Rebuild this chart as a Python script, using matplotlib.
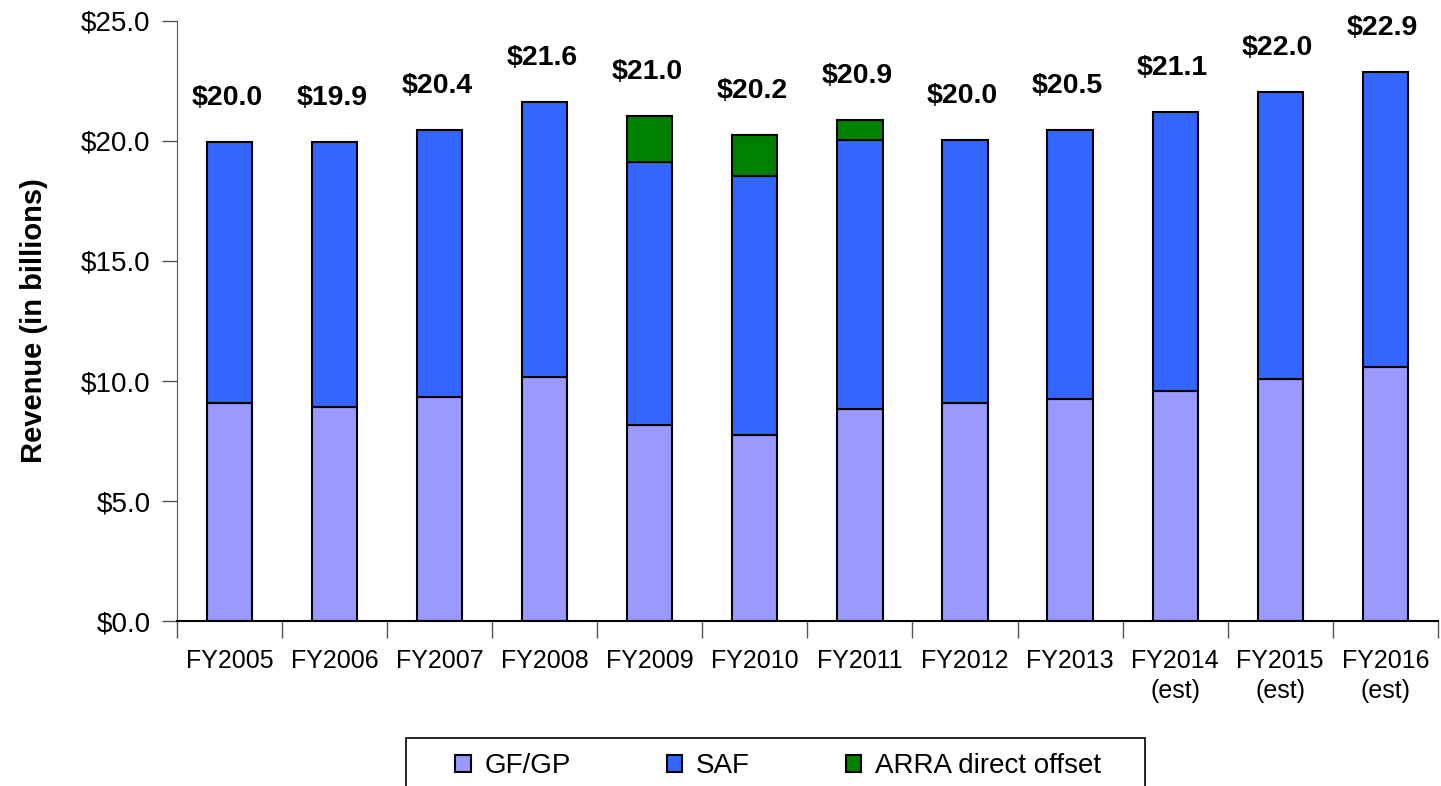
import matplotlib.pyplot as plt
import numpy as np
from matplotlib.patches import Rectangle

years = ["FY2005", "FY2006", "FY2007", "FY2008", "FY2009", "FY2010",
         "FY2011", "FY2012", "FY2013", "FY2014\n(est)", "FY2015\n(est)",
         "FY2016\n(est)"]
gf_gp = [9.08, 8.92, 9.33, 10.15, 8.17, 7.75, 8.83, 9.08, 9.25, 9.58, 10.08, 10.58]
saf = [10.88, 11.04, 11.13, 11.48, 10.96, 10.79, 11.21, 10.96, 11.21, 11.63, 11.96, 12.30]
arra = [0.0, 0.0, 0.0, 0.0, 1.91, 1.71, 0.84, 0.0, 0.0, 0.0, 0.0, 0.0]
totals = ["$20.0", "$19.9", "$20.4", "$21.6", "$21.0", "$20.2", "$20.9",
          "$20.0", "$20.5", "$21.1", "$22.0", "$22.9"]

plt.rcParams["font.family"] = ["Liberation Sans", "DejaVu Sans"]

W, H = 1441, 786
fig = plt.figure(figsize=(W / 100, H / 100), dpi=100)
ax = fig.add_axes([0.1228, 0.2099, 0.875, 0.7634])

x = np.arange(len(years))
w = 0.43
edge = dict(edgecolor="black", linewidth=1.5)
b1 = ax.bar(x, gf_gp, w, color="#9999FF", label="GF/GP", **edge)
b2 = ax.bar(x, saf, w, bottom=gf_gp, color="#3366FF", label="SAF", **edge)
base = np.array(gf_gp) + np.array(saf)
arra_idx = [i for i, v in enumerate(arra) if v > 0]
b3 = ax.bar(x[arra_idx], [arra[i] for i in arra_idx], w, bottom=base[arra_idx],
            color="#008000", label="ARRA direct offset", **edge)

tops = base + np.array(arra)
for xi, top, lbl in zip(x, tops, totals):
    ax.annotate(lbl, (xi, top), xytext=(-2, 22), textcoords="offset points",
                ha="center", va="bottom", fontsize=20.5, fontweight="bold")

ax.set_xlim(-0.5, len(years) - 0.5)
ax.set_ylim(0, 25)
ax.set_yticks(np.arange(0, 25.1, 5))
ax.set_yticklabels([f"${v:.1f}" for v in np.arange(0, 25.1, 5)], fontsize=20)
ax.set_xticks(x)
ax.set_xticklabels(years, fontsize=18, linespacing=1.35)
ax.tick_params(axis="x", length=0, pad=20)
ax.set_xticks(np.arange(-0.5, len(years)), minor=True)
ax.tick_params(axis="x", which="minor", length=12, width=1, color="#555555")
ax.tick_params(axis="y", length=11, width=1, color="#555555", pad=8)
ax.set_ylabel("Revenue (in billions)", fontsize=21, fontweight="bold", labelpad=24)

for s in ["top", "right"]:
    ax.spines[s].set_visible(False)
ax.spines["left"].set_color("#555555")
ax.spines["bottom"].set_color("black")
ax.spines["bottom"].set_linewidth(1.5)

# legend box runs off the bottom edge, so draw the frame by hand
fig.patches.append(Rectangle((406 / W, -0.05), (1145 - 406) / W, 0.05 + 48 / H,
                             transform=fig.transFigure, fill=False,
                             edgecolor="black", linewidth=1.2))
leg = fig.legend(handles=[b1, b2, b3], loc="upper left",
                 bbox_to_anchor=(440 / W, 1 - 738 / H), ncol=3,
                 fontsize=20, frameon=False,
                 handlelength=0.55, handleheight=0.55, handletextpad=0.5,
                 columnspacing=3.45, borderpad=0.55, borderaxespad=0)

fig.savefig("out.png", dpi=100)
